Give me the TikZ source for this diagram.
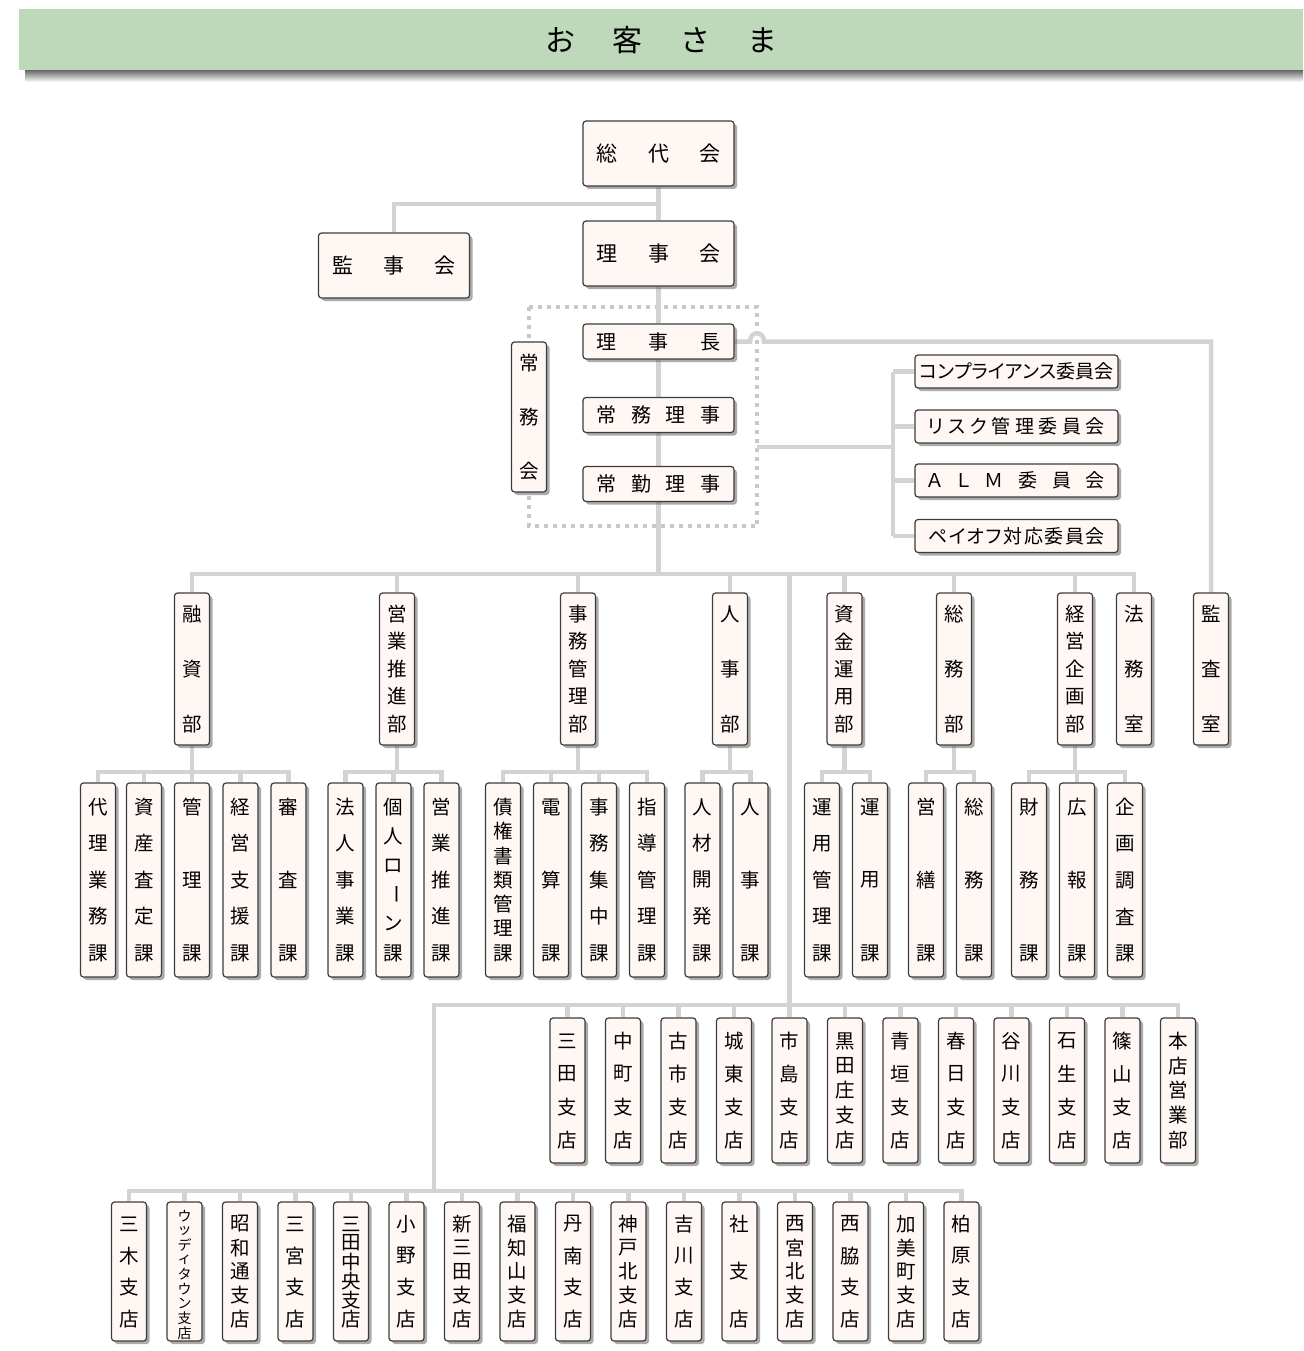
\documentclass[tikz,border=0pt]{standalone}
\usepackage{fontspec}
\setmainfont{Noto Sans CJK JP}
\newfontfamily\jpp[RawFeature=+palt]{Noto Sans CJK JP}
\usetikzlibrary{shadows,backgrounds}
\definecolor{boxfill}{HTML}{FFF7F4}
\definecolor{boxdraw}{HTML}{3C3C3C}
\definecolor{conn}{HTML}{D3D3D3}
\definecolor{dotc}{HTML}{C8C8C8}
\definecolor{hdr}{HTML}{BED9BA}
\tikzset{
  orgbox/.style={draw=boxdraw, line width=1.2pt, fill=boxfill, rounded corners=3pt, inner sep=0pt,
    drop shadow={shadow xshift=3pt, shadow yshift=-3pt, fill=black!60, opacity=0.55}},
  chr/.style={inner sep=0pt, font=\fontsize{19.5}{19.5}\selectfont},
  link/.style={draw=conn, line width=4.5pt},
}
% #1 name, #2 cx, #3 top, #4 bottom, #5 n, #6 margin, #7 chars
\newcommand\vlab[7]{%
  \node[orgbox, minimum width=35pt, minimum height={#4-#3}] (#1) at (#2,{(#3+#4)/2}) {};
  \foreach \ch [count=\i] in {#7} {
    \node[chr] (#1-\i) at (#2,{#3+#6+(\i-1)*(#4-#3-2*#6)/(#5-1)}) {\ch};
  }%
}
\newcommand\vlong{\rotatebox[origin=c]{-90}{ー}}
\begin{document}
\begin{tikzpicture}[x=1pt,y=-1pt]
\useasboundingbox (0,0) rectangle (1303,1351);
% header
\shade[top color=black!60, bottom color=white] (25,70) rectangle (1303,82);
\fill[hdr] (19,9) rectangle (1303,70);
\node[inner sep=0pt] (hdrtext) at (661.5,40) {\fontsize{30}{30}\selectfont\makebox[233pt]{お\hfill 客\hfill さ\hfill ま}};

% top boxes
\node[orgbox, minimum width=151pt, minimum height=65pt] (sodai) at (658.5,153.5) {\fontsize{21}{21}\selectfont\makebox[124pt]{総\hfill 代\hfill 会}};
\node[orgbox, minimum width=151pt, minimum height=65pt] (rijikai) at (658.5,253.5) {\fontsize{21}{21}\selectfont\makebox[124pt]{理\hfill 事\hfill 会}};
\node[orgbox, minimum width=151pt, minimum height=65pt] (kanji) at (394,265.5) {\fontsize{21}{21}\selectfont\makebox[124pt]{監\hfill 事\hfill 会}};
\node[orgbox, minimum width=151pt, minimum height=35pt] (richo) at (658.5,341.5) {\fontsize{20}{20}\selectfont\makebox[124pt]{理\hfill 事\hfill 長}};
\node[orgbox, minimum width=151pt, minimum height=35pt] (jomu) at (658.5,415) {\fontsize{20}{20}\selectfont\makebox[124pt]{常\hfill 務\hfill 理\hfill 事}};
\node[orgbox, minimum width=151pt, minimum height=35pt] (jokin) at (658.5,484) {\fontsize{20}{20}\selectfont\makebox[124pt]{常\hfill 勤\hfill 理\hfill 事}};
\vlab{jomukai}{529}{342}{492}{3}{21}{常,務,会}

% committees
\node[orgbox, minimum width=203pt, minimum height=33pt] (com1) at (1016.5,371.5) {\jpp\fontsize{19}{19}\selectfont\makebox[177pt]{コ\hfill ン\hfill プ\hfill ラ\hfill イ\hfill ア\hfill ン\hfill ス\hfill 委\hfill 員\hfill 会}};
\node[orgbox, minimum width=203pt, minimum height=33pt] (com2) at (1016.5,426.5) {\jpp\fontsize{19}{19}\selectfont\makebox[177pt]{リ\hfill ス\hfill ク\hfill 管\hfill 理\hfill 委\hfill 員\hfill 会}};
\node[orgbox, minimum width=203pt, minimum height=33pt] (com3) at (1016.5,480.5) {\jpp\fontsize{19}{19}\selectfont\makebox[177pt]{Ａ\hfill Ｌ\hfill Ｍ\hfill 委\hfill 員\hfill 会}};
\node[orgbox, minimum width=203pt, minimum height=33pt] (com4) at (1016.5,536) {\jpp\fontsize{19}{19}\selectfont\makebox[177pt]{ペ\hfill イ\hfill オ\hfill フ\hfill 対\hfill 応\hfill 委\hfill 員\hfill 会}};

% departments
\vlab{yushi}{192}{593}{745}{3}{21}{融,資,部}
\vlab{eigyo}{397}{593}{745}{5}{21}{営,業,推,進,部}
\vlab{jimu}{578}{593}{745}{5}{21}{事,務,管,理,部}
\vlab{jinji}{730}{593}{745}{3}{21}{人,事,部}
\vlab{shikin}{844.5}{593}{745}{5}{21}{資,金,運,用,部}
\vlab{somu}{954}{593}{745}{3}{21}{総,務,部}
\vlab{keiei}{1075}{593}{745}{5}{21}{経,営,企,画,部}
\vlab{homu}{1134}{593}{745}{3}{21}{法,務,室}
\vlab{kansa}{1211}{593}{745}{3}{21}{監,査,室}

% sections
\vlab{s1}{98}{783}{977}{5}{24}{代,理,業,務,課}
\vlab{s2}{144}{783}{977}{5}{24}{資,産,査,定,課}
\vlab{s3}{192}{783}{977}{3}{24}{管,理,課}
\vlab{s4}{240.5}{783}{977}{5}{24}{経,営,支,援,課}
\vlab{s5}{288.5}{783}{977}{3}{24}{審,査,課}
\vlab{s6}{345.5}{783}{977}{5}{24}{法,人,事,業,課}
\vlab{s7}{393.5}{783}{977}{6}{24}{個,人,ロ,\vlong,ン,課}
\vlab{s8}{441.5}{783}{977}{5}{24}{営,業,推,進,課}
\vlab{s9}{503}{783}{977}{7}{24}{債,権,書,類,管,理,課}
\vlab{s10}{551}{783}{977}{3}{24}{電,算,課}
\vlab{s11}{599}{783}{977}{5}{24}{事,務,集,中,課}
\vlab{s12}{647}{783}{977}{5}{24}{指,導,管,理,課}
\vlab{s13}{702.5}{783}{977}{5}{24}{人,材,開,発,課}
\vlab{s14}{750.5}{783}{977}{3}{24}{人,事,課}
\vlab{s15}{822}{783}{977}{5}{24}{運,用,管,理,課}
\vlab{s16}{870}{783}{977}{3}{24}{運,用,課}
\vlab{s17}{926}{783}{977}{3}{24}{営,繕,課}
\vlab{s18}{974}{783}{977}{3}{24}{総,務,課}
\vlab{s19}{1029}{783}{977}{3}{24}{財,務,課}
\vlab{s20}{1077}{783}{977}{3}{24}{広,報,課}
\vlab{s21}{1125}{783}{977}{5}{24}{企,画,調,査,課}

% branches row 1
\vlab{a1}{567.5}{1018}{1163}{4}{23}{三,田,支,店}
\vlab{a2}{623}{1018}{1163}{4}{23}{中,町,支,店}
\vlab{a3}{678.5}{1018}{1163}{4}{23}{古,市,支,店}
\vlab{a4}{734}{1018}{1163}{4}{23}{城,東,支,店}
\vlab{a5}{789.5}{1018}{1163}{4}{23}{市,島,支,店}
\vlab{a6}{845}{1018}{1163}{5}{23}{黒,田,庄,支,店}
\vlab{a7}{900.5}{1018}{1163}{4}{23}{青,垣,支,店}
\vlab{a8}{956}{1018}{1163}{4}{23}{春,日,支,店}
\vlab{a9}{1011.5}{1018}{1163}{4}{23}{谷,川,支,店}
\vlab{a10}{1067}{1018}{1163}{4}{23}{石,生,支,店}
\vlab{a11}{1122.5}{1018}{1163}{4}{23}{篠,山,支,店}
\vlab{a12}{1178}{1018}{1163}{5}{23}{本,店,営,業,部}

% branches row 2
\vlab{b1}{129}{1202}{1341}{4}{22}{三,木,支,店}
\node[orgbox, minimum width=35pt, minimum height=139pt] (b2) at (184.5,1271.5) {};
\foreach \ch [count=\i] in {ウ,ッ,デ,ィ,タ,ウ,ン,支,店} {
  \node[inner sep=0pt, font=\fontsize{14}{14}\selectfont] (b2-\i) at (184.5,{1216+(\i-1)*14.6}) {\ch};
}
\vlab{b3}{240}{1202}{1341}{5}{22}{昭,和,通,支,店}
\vlab{b4}{295.5}{1202}{1341}{4}{22}{三,宮,支,店}
\vlab{b5}{351}{1202}{1341}{6}{22}{三,田,中,央,支,店}
\vlab{b6}{406.5}{1202}{1341}{4}{22}{小,野,支,店}
\vlab{b7}{462}{1202}{1341}{5}{22}{新,三,田,支,店}
\vlab{b8}{517.5}{1202}{1341}{5}{22}{福,知,山,支,店}
\vlab{b9}{573}{1202}{1341}{4}{22}{丹,南,支,店}
\vlab{b10}{628.5}{1202}{1341}{5}{22}{神,戸,北,支,店}
\vlab{b11}{684}{1202}{1341}{4}{22}{吉,川,支,店}
\vlab{b12}{739.5}{1202}{1341}{3}{22}{社,支,店}
\vlab{b13}{795}{1202}{1341}{5}{22}{西,宮,北,支,店}
\vlab{b14}{850.5}{1202}{1341}{4}{22}{西,脇,支,店}
\vlab{b15}{906}{1202}{1341}{5}{22}{加,美,町,支,店}
\vlab{b16}{961.5}{1202}{1341}{4}{22}{柏,原,支,店}

% named junctions
\coordinate (j1) at (658.5,204);
\coordinate (dbar) at (0,574);
\coordinate (sbar) at (0,772);
\coordinate (dj) at (789.5,574);
\coordinate (r1) at (789.5,1005);
\coordinate (r2) at (434,1191);
\coordinate (dotr) at (757,447);
\coordinate (comsp) at (893,447);
\coordinate (hopa) at (750,341.5);
\coordinate (hopb) at (764,341.5);

\begin{pgfonlayer}{background}
\draw[dotc, line width=4pt, dash pattern=on 4pt off 5pt] (528.5,307) rectangle (757,526);
\draw[link] (sodai.south) -- (rijikai.north);
\draw[link] (kanji.north) |- (j1);
\draw[link] (rijikai.south) -- (richo.north);
\draw[link] (richo.south) -- (jomu.north);
\draw[link] (jomu.south) -- (jokin.north);
\draw[link] (jokin.south) -- (jokin.south |- dbar);
% to audit office with hop
\draw[link] (richo.east) -- (hopa) .. controls ([yshift=11pt]hopa) and ([yshift=11pt]hopb) .. (hopb) -- (richo.east -| kansa.north) -- (kansa.north);
% committees
\draw[link] (dotr) -- (comsp);
\draw[link] (com1.west -| comsp) -- (com4.west -| comsp);
\foreach \k in {com1,com2,com3,com4} { \draw[link] (\k.west) -- (\k.west -| comsp); }
% department bar
\draw[link] (yushi.north) |- (homu.north |- dbar) -- (homu.north);
\foreach \k in {eigyo,jimu,jinji,shikin,somu,keiei} { \draw[link] (\k.north) -- (\k.north |- dbar); }
% sections
\foreach \d/\f/\l in {yushi/s1/s5, eigyo/s6/s8, jimu/s9/s12, jinji/s13/s14, shikin/s15/s16, somu/s17/s18, keiei/s19/s21} {
  \draw[link] (\d.south) -- (\d.south |- sbar);
  \draw[link] (\f.north) |- (\l.north |- sbar) -- (\l.north);
}
\foreach \k in {s2,s3,s4,s7,s10,s11} { \draw[link] (\k.north) -- (\k.north |- sbar); }
\draw[link] (s20.north) -- (s20.north |- sbar);
% branches
\draw[link] (dj) -- (r1);
\draw[link] (r2) |- (a12.north |- r1) -- (a12.north);
\foreach \k in {a1,a2,a3,a4,a5,a6,a7,a8,a9,a10,a11} { \draw[link] (\k.north) -- (\k.north |- r1); }
\draw[link] (b1.north) |- (b16.north |- r2) -- (b16.north);
\foreach \k in {b2,b3,b4,b5,b6,b7,b8,b9,b10,b11,b12,b13,b14,b15} { \draw[link] (\k.north) -- (\k.north |- r2); }
\end{pgfonlayer}
\end{tikzpicture}
\end{document}
